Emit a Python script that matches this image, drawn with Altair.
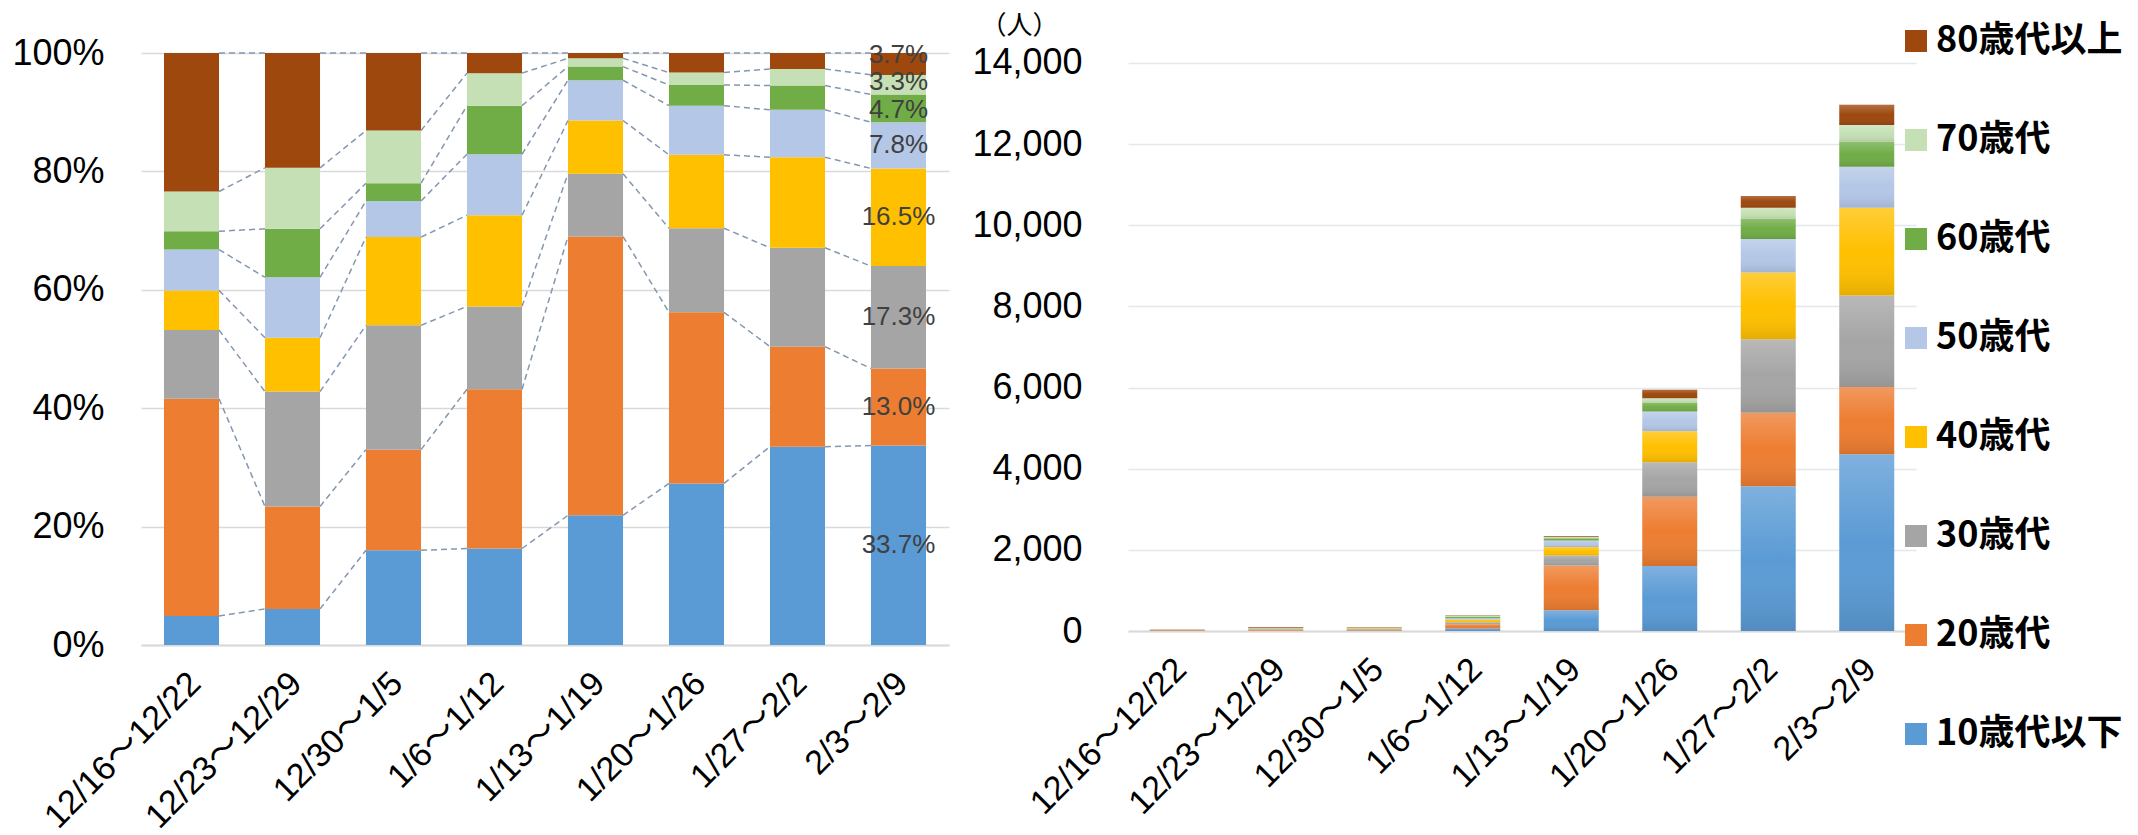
import altair as alt
import pandas as pd

weeks = ["12/16～12/22", "12/23～12/29", "12/30～1/5", "1/6～1/12",
         "1/13～1/19", "1/20～1/26", "1/27～2/2", "2/3～2/9"]
ages = ["10歳代以下", "20歳代", "30歳代", "40歳代", "50歳代", "60歳代", "70歳代", "80歳代以上"]
colors = ["#5B9BD5", "#ED7D31", "#A5A5A5", "#FFC000", "#B4C7E7", "#70AD47", "#C5E0B4", "#9E480E"]

# share of each age group per week (%), left chart
share_10 = [4.9, 6.1, 16.0, 16.3, 21.9, 27.3, 33.5, 33.7]
share_20 = [36.7, 17.3, 17.0, 26.9, 47.1, 28.9, 16.9, 13.0]
share_30 = [11.6, 19.4, 21.0, 14.0, 10.6, 14.2, 16.7, 17.3]
share_40 = [6.7, 9.1, 14.9, 15.4, 9.0, 12.4, 15.3, 16.5]
share_50 = [6.9, 10.2, 6.1, 10.3, 6.8, 8.3, 8.0, 7.8]
share_60 = [3.1, 8.2, 3.0, 8.2, 2.3, 3.5, 4.1, 4.7]
share_70 = [6.7, 10.3, 8.9, 5.5, 1.4, 2.1, 2.8, 3.3]
share_80 = [23.4, 19.4, 13.1, 3.4, 0.9, 3.3, 2.7, 3.7]

# number of people per age group per week, right chart
count_10 = [2, 6, 15, 62, 512, 1602, 3569, 4357]
count_20 = [17, 17, 16, 102, 1101, 1706, 1812, 1655]
count_30 = [5, 20, 20, 53, 248, 853, 1812, 2257]
count_40 = [3, 9, 14, 59, 210, 761, 1641, 2165]
count_50 = [3, 10, 6, 39, 159, 486, 826, 1011]
count_60 = [1, 8, 3, 31, 54, 222, 500, 618]
count_70 = [3, 10, 8, 21, 33, 106, 274, 406]
count_80 = [11, 20, 13, 13, 21, 209, 288, 499]

shares = [share_10, share_20, share_30, share_40, share_50, share_60, share_70, share_80]
counts = [count_10, count_20, count_30, count_40, count_50, count_60, count_70, count_80]

rows = []
for i, w in enumerate(weeks):
    lo = 0.0
    c0 = 0
    for k, a in enumerate(ages):
        s = shares[k][i] / 100.0
        c = counts[k][i]
        rows.append(dict(week=w, age=a, rank=k, share=s, lo=lo, hi=lo + s,
                         mid=lo + s / 2, c0=c0, c1=c0 + c))
        lo += s
        c0 += c
df = pd.DataFrame(rows)

rule_rows = []
for k, a in enumerate(ages):
    sub = df[df.age == a].set_index("week")
    for i in range(len(weeks) - 1):
        rule_rows.append(dict(age=a, week=weeks[i], week2=weeks[i + 1],
                              y=float(sub.loc[weeks[i], "hi"]),
                              y2=float(sub.loc[weeks[i + 1], "hi"])))
rules_df = pd.DataFrame(rule_rows)

legend_order = ages[::-1]
legend_colors = colors[::-1]

NUM_FONT = "Liberation Sans, Arial, Noto Sans CJK JP"
JP_FONT = "Noto Sans CJK JP"

def x_axis():
    return alt.Axis(title=None, labelAngle=-45, labelAlign="right", labelBaseline="middle",
                    labelPadding=33, labelOffset=4, labelFontSize=34, labelFontWeight="normal",
                    labelColor="#000000", labelFont=NUM_FONT, ticks=False,
                    domainColor="#d9d9d9", domainWidth=2, grid=False,
                    labelOverlap=False, labelBound=False, labelLimit=500)

# ---------------- left: share chart ----------------
xl = alt.X("week:N", sort=weeks,
           scale=alt.Scale(domain=weeks, paddingInner=0.455, paddingOuter=0.2275),
           axis=x_axis())

bars_left = alt.Chart(df).mark_bar().encode(
    x=xl,
    y=alt.Y("lo:Q", scale=alt.Scale(domain=[0, 1], nice=False),
            axis=alt.Axis(title=None, values=[0, 0.2, 0.4, 0.6, 0.8, 1.0], format="%",
                          domain=False, ticks=False, labelPadding=37, labelFontSize=36,
                          labelFontWeight="normal", labelColor="#000000", labelFont=NUM_FONT,
                          gridColor="#d9d9d9", gridWidth=1.5, labelFlush=False)),
    y2="hi:Q",
    color=alt.Color("age:N", scale=alt.Scale(domain=legend_order, range=legend_colors),
                    legend=None),
)

rules = alt.Chart(rules_df).mark_rule(strokeDash=[6, 4], color="#8497B0", strokeWidth=1.5).encode(
    x=alt.X("week:N", sort=weeks, bandPosition=1),
    x2=alt.X2("week2", bandPosition=0),
    y="y:Q",
    y2="y2:Q",
)

label_base = alt.Chart(df).transform_filter(alt.datum.week == weeks[-1])
label_enc = dict(
    x=alt.X("week:N", sort=weeks),
    y="mid:Q",
    text=alt.Text("share:Q", format=".1%"),
)
label_style = dict(fontSize=26, color="#404040", font=NUM_FONT, baseline="middle", align="center")

# small vertical nudges keep the three thin top labels apart, as in the original
label_layers = []
for group, dy in [(ages[:6], 0), ([ages[5]], 2), ([ages[6]], -3), ([ages[7]], -9)]:
    if dy == 0:
        sel = ages[:5]
    else:
        sel = group
    label_layers.append(
        label_base.transform_filter(alt.FieldOneOfPredicate(field="age", oneOf=sel))
        .mark_text(dy=dy, **label_style).encode(**label_enc)
    )

left = alt.layer(bars_left, rules, *label_layers).properties(width=808, height=592)

# ---------------- right: count chart ----------------
xr = alt.X("week:N", sort=weeks,
           scale=alt.Scale(domain=weeks, paddingInner=0.442, paddingOuter=0.221),
           axis=x_axis())
yr_scale = alt.Scale(domain=[0, 14246], nice=False)

bars_right = alt.Chart(df).mark_bar().encode(
    x=xr,
    y=alt.Y("c0:Q", scale=yr_scale,
            axis=alt.Axis(title="（人）", titleAngle=0, titleX=-109, titleY=-28,
                          titleAlign="center", titleBaseline="middle", titleFontSize=26,
                          titleFontWeight="normal", titleFont=JP_FONT, titleColor="#000000",
                          values=[0, 2000, 4000, 6000, 8000, 10000, 12000, 14000], format=",.0f",
                          domain=False, ticks=False, labelPadding=46, labelFontSize=36,
                          labelFontWeight="normal", labelColor="#000000", labelFont=NUM_FONT,
                          gridColor="#e4e7ec", gridWidth=1.5, labelFlush=False)),
    y2="c1:Q",
    color=alt.Color("age:N", scale=alt.Scale(domain=legend_order, range=legend_colors),
                    legend=alt.Legend(orient="none", legendX=770, legendY=-30, title=None,
                                      symbolType="square", symbolSize=484, symbolStrokeWidth=0,
                                      labelFontSize=36, labelFont=JP_FONT, labelFontWeight="bold",
                                      labelColor="#000000", rowPadding=63, labelOffset=2,
                                      padding=0, labelLimit=400)),
)

shade = alt.LinearGradient(
    gradient="linear", x1=0, y1=0, x2=0, y2=1,
    stops=[alt.GradientStop(color="rgba(255,255,255,0.22)", offset=0),
           alt.GradientStop(color="rgba(255,255,255,0.0)", offset=0.5),
           alt.GradientStop(color="rgba(0,0,0,0.10)", offset=1)],
)
bars_shade = alt.Chart(df).mark_bar(fill=shade).encode(
    x=alt.X("week:N", sort=weeks),
    y="c0:Q",
    y2="c1:Q",
)

right = alt.layer(bars_right, bars_shade).properties(width=788, height=578)

chart = alt.hconcat(left, right, spacing=179, bounds="flush").resolve_scale(
    color="independent"
).properties(
    padding={"left": 11, "top": 12, "right": 0, "bottom": 0}
).configure_view(stroke=None)

chart.save("out.html", embed_options={"renderer": "svg", "actions": False})
